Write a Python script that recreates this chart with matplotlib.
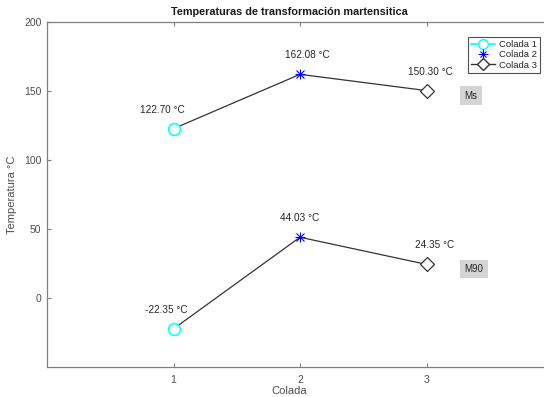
import matplotlib
matplotlib.use("Agg")
import matplotlib.pyplot as plt
from matplotlib.lines import Line2D
from matplotlib.legend_handler import HandlerTuple

plt.rcParams['font.family'] = ['Liberation Sans', 'DejaVu Sans']

# Data
coladas = [1, 2, 3]
ms_temps = [122.70, 162.08, 150.30]
m90_temps = [-22.35, 44.03, 24.35]
serie_labels = ["Colada 1", "Colada 2", "Colada 3"]
curve_names = ["Ms", "M90"]
yticks = [0, 50, 100, 150, 200]

# Styling per colada
marker_styles = [
    dict(marker='o', color='#00ffff', ms=8.5, mew=1.1),
    dict(marker='asterisk', color='#0000ff', ms=7.5, mew=0.8),
    dict(marker='D', color='#333333', ms=7, mew=0.9),
]
# Horizontal nudge (px) for each value label
label_dx = [[-11, 7, 4], [-7, 0, 8]]

W, H = 544, 397
fig = plt.figure(figsize=(W / 100, H / 100), dpi=100)
ax = fig.add_axes([47 / W, (H - 367) / H, (553 - 47) / W, (367 - 22) / H])

axis_gray = '#7f7f7f'
text_gray = '#4d4d4d'


def draw_asterisk(x, y, color, ms, mew):
    ax.plot(x, y, marker='+', color=color, ms=ms, mew=mew, linestyle='none', zorder=3)
    ax.plot(x, y, marker='x', color=color, ms=ms * 0.72, mew=mew, linestyle='none', zorder=3)


for name_idx, curve in enumerate((ms_temps, m90_temps)):
    ax.plot(coladas, curve, color='#333333', lw=0.9, zorder=2)
    for i, (x, y) in enumerate(zip(coladas, curve)):
        st = marker_styles[i]
        if st['marker'] == 'asterisk':
            draw_asterisk(x, y, st['color'], st['ms'], st['mew'])
        else:
            ax.plot(x, y, marker=st['marker'], mec=st['color'], mfc='white',
                    ms=st['ms'], mew=st['mew'], linestyle='none', zorder=3)
        ax.annotate(f"{y:.2f} °C", (x, y), xytext=(label_dx[name_idx][i] * 0.72, 19 * 0.72),
                    textcoords='offset points', ha='center', va='center',
                    fontsize=7.2, color='#262626')

# Curve name tags
ax.text(3.3, 146.5, curve_names[0], fontsize=7, color='#262626', va='center', ha='left',
        bbox=dict(boxstyle='square,pad=0.45', fc='#d4d4d4', ec='none'))
ax.text(3.3, 21, curve_names[1], fontsize=7, color='#262626', va='center', ha='left',
        bbox=dict(boxstyle='square,pad=0.45', fc='#d4d4d4', ec='none'))

ax.set_xlim(0, 4)
ax.set_ylim(-50, 200)
ax.set_xticks(coladas)
ax.set_yticks(yticks)
ax.tick_params(direction='in', length=3, width=0.8, colors=axis_gray,
               labelcolor=text_gray, labelsize=7.5, top=True, pad=6)
ax.tick_params(axis='y', pad=4)
ax.tick_params(axis='x', labeltop=False)
for s in ax.spines.values():
    s.set_color(axis_gray)
    s.set_linewidth(0.9)
ax.spines['right'].set_visible(False)

ax.set_title("Temperaturas de transformación martensitica", fontsize=7.8,
             fontweight='bold', color='#1a1a1a', x=(289 - 47) / (553 - 47), pad=5)
ax.set_xlabel("Colada", fontsize=8, color=text_gray)
ax.xaxis.set_label_coords((289 - 47) / (553 - 47), -0.055)
ax.set_ylabel("Temperatura °C", fontsize=8, color=text_gray)
ax.yaxis.set_label_coords(-0.06, 0.5)

ast_plus = Line2D([], [], color='#0000ff', marker='+', linestyle='none', ms=7, mew=0.8)
ast_x = Line2D([], [], color='#0000ff', marker='x', linestyle='none', ms=5, mew=0.8)
handles = [
    Line2D([], [], color='#00ffff', marker='o', mfc='white', ms=7, lw=1.2),
    (ast_plus, ast_x),
    Line2D([], [], color='#333333', marker='D', mfc='white', ms=6, lw=1.0),
]
leg = fig.legend(handles, serie_labels, loc='upper right',
                 bbox_to_anchor=(540 / W, 1 - 37 / H), fontsize=6.8,
                 frameon=True, fancybox=False, borderpad=0.3, labelspacing=0.15,
                 handlelength=2.6, handletextpad=0.4, borderaxespad=0,
                 handler_map={tuple: HandlerTuple(ndivide=1, pad=0)})
leg.get_frame().set_edgecolor('#262626')
leg.get_frame().set_linewidth(0.8)
for t in leg.get_texts():
    t.set_color('#262626')

fig.savefig("out.png", dpi=100)
